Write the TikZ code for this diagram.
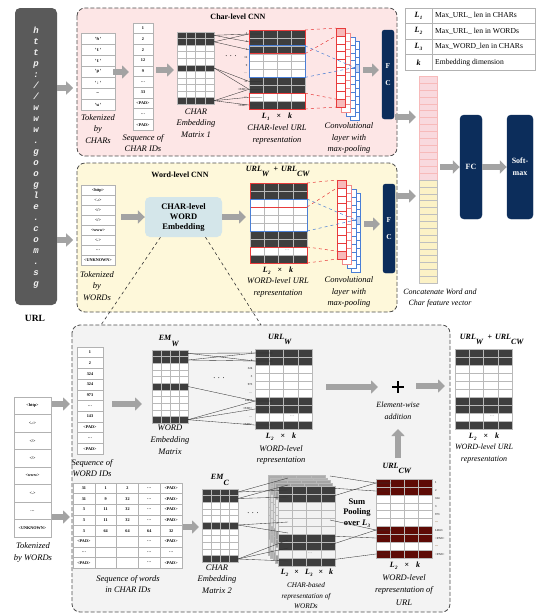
\documentclass[tikz,border=0pt]{standalone}
\usepackage{fontspec}
\setmainfont{Liberation Serif}
\setmonofont{Liberation Mono}
\usetikzlibrary{arrows.meta}
\definecolor{pinkbg}{HTML}{FDE6E6}
\definecolor{yellowbg}{HTML}{FEF8DA}
\definecolor{graybg}{HTML}{F3F3F3}
\definecolor{navy}{HTML}{0C2D5B}
\definecolor{urlgray}{HTML}{5A5A5A}
\definecolor{embblue}{HTML}{D4E6EA}
\definecolor{darkcell}{HTML}{3E3E3E}
\definecolor{darkred}{HTML}{5E0B06}
\definecolor{arrowgray}{HTML}{A3A3A3}
\definecolor{cpink}{HTML}{F9D9DE}
\definecolor{cyellow}{HTML}{FCF2C6}
\definecolor{convred}{HTML}{E83B3B}
\definecolor{convblue}{HTML}{4A7FD6}
\definecolor{dotorange}{HTML}{D08A3A}

\newcommand\Lsub[1]{\textbf{\textit{L}}\kern0.3pt\raisebox{-1.8pt}{\fontsize{5}{5}\selectfont\textbf{\textit{#1}}}}
\newcommand\URLsub[1]{\textbf{\textit{URL}}\raisebox{-5pt}{\textbf{\textit{#1}}}}

\tikzset{
 region/.style={draw=black!70, dash pattern=on 4pt off 2pt, line width=0.8pt, rounded corners=8pt},
 barrow/.style={draw=arrowgray, line width=5.5pt, -{Triangle[length=7pt,width=13pt]}},
 lbl/.style={font=\fontsize{8.5}{11.5}\selectfont\itshape, align=center, inner sep=0pt},
 slbl/.style={font=\fontsize{7.2}{10.5}\selectfont\itshape, align=center, inner sep=0pt},
 ttl/.style={font=\fontsize{8}{10}\selectfont\bfseries, inner sep=0pt},
 dimtxt/.style={font=\fontsize{8}{10}\selectfont\bfseries, inner sep=0pt},
 tabtxt/.style={font=\fontsize{4.2}{5}\selectfont\bfseries, inner sep=0pt},
 tabc/.style={draw=gray!60, line width=0.5pt},
 gridc/.style={draw=gray!55, line width=0.4pt},
 navybox/.style={fill=navy, draw=navy, rounded corners=2.5pt, text=white, font=\fontsize{7.5}{17}\selectfont\bfseries, align=center, inner sep=0pt},
 micro/.style={font=\fontsize{3}{3.5}\selectfont\bfseries, inner sep=0pt, text=black!70},
 thinl/.style={draw=black!80, line width=0.35pt},
 ddash/.style={draw=black!80, dashed, line width=0.6pt},
}

% grid matrix: x1,y1,x2,y2,nrows,ncols,dark rows,dark colour,light colour
\newcommand\gmat[9]{%
 \pgfmathsetmacro\rh{(#4-#2)/#5}%
 \pgfmathsetmacro\cwd{(#3-#1)/#6}%
 \fill[#9] (#1,#2) rectangle (#3,#4);
 \foreach \r in {#7}{\fill[#8] (#1,{#2+(\r-1)*\rh}) rectangle (#3,{#2+\r*\rh});}
 \foreach \i in {1,...,#5}{\draw[gridc] (#1,{#2+\i*\rh}) -- (#3,{#2+\i*\rh});}
 \foreach \j in {1,...,#6}{\draw[gridc] ({#1+\j*\cwd},#2) -- ({#1+\j*\cwd},#4);}
 \draw[gridc] (#1,#2) rectangle (#3,#4);
}
% vertical table: x1,y1,x2,y2,nrows,font,entries
\newcommand\vtab[7]{%
 \pgfmathsetmacro\rh{(#4-#2)/#5}%
 \fill[white] (#1,#2) rectangle (#3,#4);
 \foreach \t [count=\i] in {#7}{%
  \draw[tabc] (#1,{#2+(\i-1)*\rh}) rectangle (#3,{#2+\i*\rh});
  \node[tabtxt] at ({(#1+#3)/2},{#2+(\i-0.5)*\rh}) {#6\t};}%
}
% conv column: x,y,colour
\newcommand\convcol[3]{%
 \filldraw[fill=white, draw=#3, line width=0.5pt] (#1,#2) rectangle ++(9,79);
 \foreach \k in {1,...,9}{\draw[#3, line width=0.5pt] (#1,{#2+\k*7.9}) -- ++(9,0);}
}

\begin{document}
\begin{tikzpicture}[x=1pt,y=-1pt]
\useasboundingbox (0,0) rectangle (540,614);

% ---------- regions ----------
\draw[region, fill=pinkbg] (77,8) rectangle (397,156);
\draw[region, fill=yellowbg] (77,163) rectangle (397,312);
\draw[region, fill=graybg] (72,325) rectangle (450,612);

% ---------- URL bar ----------
\node[fill=urlgray, rounded corners=5pt, minimum width=42pt, minimum height=297pt, inner sep=0pt] (url) at (36,156.5) {};
\node[font=\fontsize{9}{11}\selectfont\ttfamily\bfseries\itshape, text=gray!12, align=center, inner sep=0pt] (urltxt) at (36,158)
 {h\\t\\t\\p\\:\\/\\/\\w\\w\\w\\.\\g\\o\\o\\g\\l\\e\\.\\c\\o\\m\\.\\s\\g};
\node[font=\fontsize{9.5}{11}\selectfont\bfseries, inner sep=0pt] (urllbl) at (35,318) {URL};

% ---------- Char-level CNN ----------
\node[ttl] (t1) at (238,17) {Char-level CNN};
\vtab{81}{33}{115}{110}{7}{\ttfamily}{'h','t','t','p',':',…,'w'}
\node[lbl] (l1) at (98,129) {Tokenized\\by\\CHARs};
\vtab{133}{23}{153}{130}{10}{}{1,2,2,12,9,…,33,<PAD>,…,<PAD>}
\node[lbl] (l2) at (143,143) {Sequence of\\CHAR IDs};

\gmat{177}{32}{214}{104}{11}{4}{1,2,6,11}{darkcell}{white}
\node[lbl] (l3) at (196,123) {CHAR\\Embedding\\Matrix 1};
\node[font=\fontsize{8}{8}\selectfont, inner sep=0pt] (d1) at (231,56) {.\,\,.\,\,.};

\gmat{249}{30}{305}{109}{10}{4}{1,2,3,7,8,10}{darkcell}{white}
\foreach \t [count=\i] in {1,2,2,12,9,…,33,<PAD>,…,<PAD>}{\node[micro, anchor=east] at (247.5,{30+(\i-0.5)*7.9}) {\t};}
\foreach \a/\b in {35.3/34, 35.3/41.9, 41.8/34, 41.8/49.8, 68/81.4, 68/89.3, 100.7/89.3, 100.7/97.2, 100.7/105}
 {\draw[thinl] (214,\a) -- (249,\b) -- (262,\b);}
\draw[convred, line width=0.8pt] (249,30) rectangle (305,53.7);
\draw[convred, line width=0.8pt] (249,93.2) rectangle (305,109);
\draw[convblue, line width=0.8pt] (249,45.8) rectangle (305,77.4);
\node[dimtxt] (dm1) at (277,117) {\Lsub{1}\hspace{7pt}×\hspace{7pt}\textit{k}};
\node[lbl] (l4) at (277,134.5) {CHAR-level URL\\representation};

% conv stack (char)
\convcol{350}{41}{convblue}
\convcol{346}{37}{convblue}
\convcol{341}{33}{convred!60}
\convcol{336}{28}{convred}
\filldraw[fill=convred!35, draw=convred, line width=0.5pt] (336,28) rectangle ++(9,7.9);
\filldraw[fill=convred!35, draw=convred, line width=0.5pt] (336,99.1) rectangle ++(9,7.9);
\fill[convblue!30] (355.5,65.2) rectangle (358.5,72.1);
\fill[convblue] (354.5,67.5) circle (0.7pt);
\draw[convred, dashed, line width=0.5pt] (305,30) -- (336,28) (305,53.7) -- (336,35.9) (305,93.2) -- (336,99.1) (305,109) -- (336,107);
\draw[convblue, dashed, line width=0.5pt] (305,45.8) -- (354.5,67.5) (305,77.4) -- (354.5,67.5);
\node[lbl] (l5) at (349,138) {Convolutional\\layer with\\max-pooling};

\node[navybox, minimum width=12pt, minimum height=89pt] (fc1) at (388,74.5) {F\\C};

% ---------- Word-level CNN ----------
\node[ttl] (t2) at (180,175) {Word-level CNN};
\vtab{81}{185}{115}{265}{8}{}{<http>,<.:>,</>,</>,<www>,<.>,…,<UNKNOWN>}
\node[lbl] (l6) at (97,286) {Tokenized\\by\\WORDs};
\node[fill=embblue, rounded corners=5pt, minimum width=77pt, minimum height=40pt, font=\fontsize{8.5}{10}\selectfont\bfseries, align=center, inner sep=0pt] (cwe) at (183.5,217) {CHAR-level\\WORD\\Embedding};

\node[font=\fontsize{8}{10}\selectfont, inner sep=0pt] (u1) at (278,171) {\URLsub{W}\hspace{4pt}\textbf{+}\hspace{3pt}\URLsub{CW}};
\gmat{250}{183}{307}{263}{10}{4}{1,2,7,8,10}{darkcell}{white}
\node[font=\fontsize{5}{5}\selectfont, text=gray, inner sep=0pt] at (287,250) {…};
\draw[convred, line width=0.8pt] (250,183) rectangle (307,207);
\draw[convred, line width=0.8pt] (250,247) rectangle (307,263);
\draw[convblue, line width=0.8pt] (250,199) rectangle (307,231);
\node[dimtxt] (dm2) at (278,271) {\Lsub{2}\hspace{7pt}×\hspace{7pt}\textit{k}};
\node[lbl] (l7) at (278,287.5) {WORD-level URL\\representation};

\convcol{351}{193}{convblue}
\convcol{347}{189}{convblue}
\convcol{342}{185}{convred!60}
\convcol{337}{180}{convred}
\filldraw[fill=convred!35, draw=convred, line width=0.5pt] (337,180) rectangle ++(9,7.9);
\filldraw[fill=convred!35, draw=convred, line width=0.5pt] (337,251.1) rectangle ++(9,7.9);
\fill[convblue!30] (356.5,217.2) rectangle (359.5,224.1);
\fill[convblue] (355.5,220) circle (0.7pt);
\draw[convred, dashed, line width=0.5pt] (307,183) -- (337,180) (307,207) -- (337,187.9) (307,247) -- (337,251.1) (307,263) -- (337,259);
\draw[convblue, dashed, line width=0.5pt] (307,199) -- (355.5,220) (307,231) -- (355.5,220);
\node[lbl] (l8) at (349,292) {Convolutional\\layer with\\max-pooling};

\node[navybox, minimum width=12pt, minimum height=89pt] (fc2) at (389,228.5) {F\\C};

% dashed zoom lines
\draw[ddash] ([xshift=-23pt]cwe.south) -- (101,325);
\draw[ddash] ([xshift=22pt]cwe.south) -- (261,325);

% ---------- legend ----------
\draw[gray!60, line width=0.5pt] (405,8) rectangle (535,70);
\foreach \yy in {23.5,39,54.5}{\draw[gray!60, line width=0.5pt] (405,\yy) -- (535,\yy);}
\draw[gray!60, line width=0.5pt] (432,8) -- (432,70);
\node[dimtxt] (k1) at (418.5,15.75) {\Lsub{1}};
\node[dimtxt] (k2) at (418.5,31.25) {\Lsub{2}};
\node[dimtxt] (k3) at (418.5,46.75) {\Lsub{3}};
\node[dimtxt] (k4) at (418.5,62.25) {\textit{k}};
\node[font=\fontsize{7.6}{9}\selectfont, anchor=west, inner sep=0pt] (v1) at (435,15.75) {Max\_URL\_ len in CHARs};
\node[font=\fontsize{7.6}{9}\selectfont, anchor=west, inner sep=0pt] (v2) at (435,31.25) {Max\_URL\_ len in WORDs};
\node[font=\fontsize{7.6}{9}\selectfont, anchor=west, inner sep=0pt] (v3) at (435,46.75) {Max\_WORD\_len in CHARs};
\node[font=\fontsize{7.6}{9}\selectfont, anchor=west, inner sep=0pt] (v4) at (435,62.25) {Embedding dimension};

% ---------- concat vector ----------
\node[minimum width=18pt, minimum height=207pt, inner sep=0pt] (concat) at (428,179.5) {};
\foreach \k in {0,...,14}{\filldraw[fill=cpink, draw=convred!35, line width=0.4pt] (419,{76+\k*6.93}) rectangle ++(18,6.93);}
\foreach \k in {0,...,14}{\filldraw[fill=cyellow, draw=black!25, line width=0.4pt] (419,{180+\k*6.87}) rectangle ++(18,6.87);}
\node[lbl, font=\fontsize{8}{11.5}\selectfont\itshape] (l9) at (440,298) {Concatenate Word and\\Char feature vector};

\node[navybox, font=\fontsize{8}{10}\selectfont\bfseries, minimum width=22pt, minimum height=104pt, rounded corners=4pt] (fc3) at (471,167) {FC};
\node[navybox, font=\fontsize{8}{12}\selectfont\bfseries, minimum width=26pt, minimum height=104pt, rounded corners=4pt] (soft) at (520,167) {Soft-\\max};

% ---------- bottom section ----------
\vtab{14}{397}{51}{537}{8}{}{<http>,<.:>,</>,</>,<www>,<.>,…,<UNKNOWN>}
\node[lbl] (l10) at (33,552.5) {Tokenized\\by WORDs};

\vtab{77}{347}{103}{454}{10}{}{1,2,324,324,973,…,143,<PAD>,…,<PAD>}
\node[lbl] (l11) at (92,468) {Sequence of\\WORD IDs};

\node[font=\fontsize{8}{10}\selectfont, inner sep=0pt] (emw) at (169,341) {\textbf{\textit{EM}}\raisebox{-6pt}{\textbf{\textit{W}}}};
\gmat{152}{350}{188}{423}{11}{4}{1,2,6,11}{darkcell}{white}
\node[lbl, font=\fontsize{8.5}{12}\selectfont\itshape] (l12) at (170,440) {WORD\\Embedding\\Matrix};
\node[font=\fontsize{8}{8}\selectfont, inner sep=0pt] (d2) at (219,378) {.\,\,.\,\,.};

\node[font=\fontsize{8}{10}\selectfont, inner sep=0pt] (u2) at (280,339) {\URLsub{W}};
\gmat{255}{349}{312}{429}{10}{4}{1,2,7,8,10}{darkcell}{white}
\node[font=\fontsize{5}{5}\selectfont, text=gray, inner sep=0pt] at (292,416) {…};
\foreach \t [count=\i] in {1,2,324,3,973,…,14653,<PAD>,…,<PAD>}{\node[micro, anchor=east] at (252.5,{349+(\i-0.5)*8}) {\t};}
\foreach \a/\b in {353.3/353, 353.3/361, 360/353, 360/361, 386.5/401, 419.7/401, 419.7/409, 419.7/425}
 {\draw[thinl] (188,\a) -- (255,\b) -- (272,\b);}
\node[dimtxt] (dm3) at (281,437) {\Lsub{2}\hspace{7pt}×\hspace{7pt}\textit{k}};
\node[lbl] (l13) at (281,455) {WORD-level\\representation};

% plus
\draw[line width=2pt] (392,387) -- (404,387) (398,381) -- (398,393);
\node[lbl, font=\fontsize{8}{12}\selectfont\itshape] (l14) at (398,411) {Element-wise\\addition};
\node[font=\fontsize{8}{10}\selectfont, inner sep=0pt] (u3) at (397,468) {\URLsub{CW}};

% right matrix
\node[font=\fontsize{8}{10}\selectfont, inner sep=0pt] (u4) at (492,339) {\URLsub{W}\hspace{4pt}\textbf{+}\hspace{3pt}\URLsub{CW}};
\gmat{455}{349}{512}{429}{10}{4}{1,2,7,8,10}{darkcell}{white}
\node[font=\fontsize{5}{5}\selectfont, text=gray, inner sep=0pt] at (492,416) {…};
\node[dimtxt] (dm4) at (484,437) {\Lsub{2}\hspace{7pt}×\hspace{7pt}\textit{k}};
\node[lbl, font=\fontsize{8}{12}\selectfont\itshape] (l15) at (484,454) {WORD-level URL\\representation};

% sequence of words in char IDs
\fill[white] (73,483) rectangle (182,568);
\foreach \row [count=\i] in {{31,1,2,…,<PAD>},{31,9,32,…,<PAD>},{3,11,32,…,<PAD>},{3,11,32,…,<PAD>},{3,64,64,64,32},{<PAD>,{},{},…,<PAD>},{…,{},{},…,…},{<PAD>,{},{},…,<PAD>}}{
 \foreach \c [count=\j] in \row {
  \draw[tabc] ({73+(\j-1)*21.8},{483+(\i-1)*10.625}) rectangle ++(21.8,10.625);
  \node[tabtxt] at ({73+(\j-0.5)*21.8},{483+(\i-0.5)*10.625}) {\c};
 }}
\node[lbl] (l16) at (128,584) {Sequence of words\\in CHAR IDs};

\node[font=\fontsize{8}{10}\selectfont, inner sep=0pt] (emc) at (220,480) {\textbf{\textit{EM}}\raisebox{-6pt}{\textbf{\textit{C}}}};
\gmat{202}{489}{238}{562}{11}{4}{1,2,6,11}{darkcell}{white}
\node[lbl, font=\fontsize{8.5}{11.5}\selectfont\itshape] (l17) at (217,579) {CHAR\\Embedding\\Matrix 2};
\node[font=\fontsize{8}{8}\selectfont, inner sep=0pt] (d3) at (253,513) {.\,\,.\,\,.};

% 3D stack
\gmat{268}{475}{325}{555}{10}{4}{1,2,7,8,10}{gray!65}{gray!35}
\gmat{270.5}{477.7}{327.5}{557.7}{10}{4}{1,2,7,8,10}{gray!60}{gray!28}
\gmat{273}{480.4}{330}{560.4}{10}{4}{1,2,7,8,10}{gray!70}{gray!22}
\gmat{275.5}{483.1}{332.5}{563.1}{10}{4}{1,2,7,8,10}{gray!75}{gray!16}
\gmat{278}{485.8}{335}{565.8}{10}{4}{1,2,7,8,10}{darkcell}{gray!10}
\node[font=\fontsize{5}{5}\selectfont, text=gray, inner sep=0pt] at (310,553) {…};
\foreach \a/\b in {492/478, 492/490, 498.5/485, 498.5/497, 525/522, 525/533, 559/540, 559/548, 559/561}
 {\draw[thinl] (238,\a) -- (288,\b);}
\node[dimtxt] (dm5) at (307,573) {\Lsub{2}\hspace{6pt}×\hspace{6pt}\Lsub{3}\hspace{6pt}×\hspace{6pt}\textit{k}};
\node[slbl] (l18) at (306,596) {CHAR-based\\representation of\\WORDs};

% URL_CW
\gmat{376}{479}{432}{558}{10}{4}{1,2,7,8,10}{darkred}{white}
\foreach \t [count=\i] in {1,2,324,3,973,…,14653,<PAD>,…,<PAD>}{\node[micro, anchor=west] at (435,{479+(\i-0.5)*7.9}) {\t};}
\foreach \i in {6,9}{\node[micro, anchor=west, text=dotorange] at (435,{479+(\i-0.5)*7.9}) {…};}
\foreach \a/\b in {476/483, 488/491, 497/483, 520/530, 536/538, 545/530, 560/554}
 {\draw[thinl] (330,\a) -- (376,\b) -- (392,\b);}
\node[font=\fontsize{8.5}{10.5}\selectfont\bfseries, align=center, inner sep=0pt] (sp) at (357,513) {Sum\\Pooling\\over \Lsub{3}};
\node[dimtxt] (dm6) at (405,566) {\Lsub{2}\hspace{7pt}×\hspace{7pt}\textit{k}};
\node[lbl, font=\fontsize{8.5}{12.5}\selectfont\itshape] (l19) at (404,590) {WORD-level\\representation of\\URL};

% ---------- arrows ----------
\draw[barrow] ([yshift=68.5pt]url.east) -- ++(16,0);
\draw[barrow] ([yshift=-83.5pt]url.east) -- ++(16,0);
\draw[barrow] (113,72) -- (129,72);
\draw[barrow] (156,70) -- (174,70);
\draw[barrow] (363,70) -- (379,70);
\draw[barrow] (395,117) -- (416,117);
\draw[barrow] (121,217) -- (cwe.west);
\draw[barrow] (cwe.east) -- (246,217);
\draw[barrow] (364,224) -- (380,224);
\draw[barrow] (396,196) -- (416,196);
\draw[barrow] (440,167) -- (fc3.west);
\draw[barrow] (fc3.east) -- (soft.west);
\draw[barrow] (52,404) -- (70,404);
\draw[barrow] (52,517) -- (70,517);
\draw[barrow] (112,404) -- (142,404);
\draw[barrow] (326,387) -- (378,387);
\draw[barrow] (416,386) -- (445,386);
\draw[barrow] (398,458) -- (398,429);
\draw[barrow] (183,527) -- (199,527);
\end{tikzpicture}
\end{document}
